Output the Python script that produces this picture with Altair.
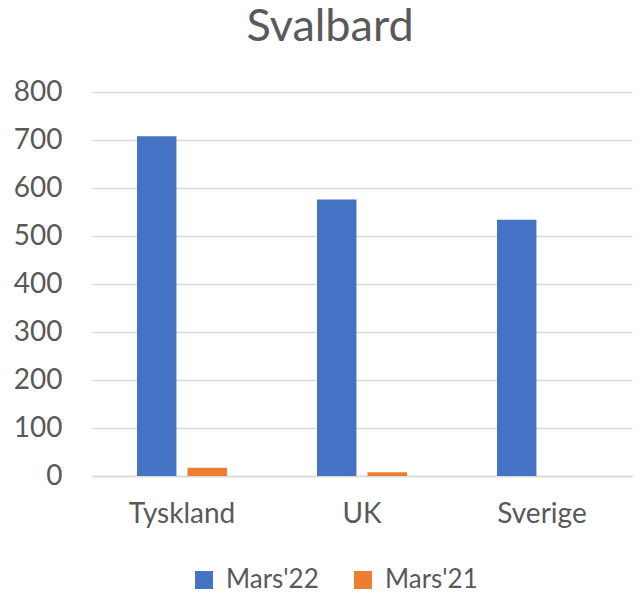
import altair as alt
import pandas as pd

categories = ["Tyskland", "UK", "Sverige"]
series = ["Mars'22", "Mars'21"]
mars22 = [708, 576, 534]
mars21 = [17, 8, 0]
colors = ["#4472C4", "#ED7D31"]

rows = []
for c, a, b in zip(categories, mars22, mars21):
    rows.append({"land": c, "serie": series[0], "verdi": a})
    rows.append({"land": c, "serie": series[1], "verdi": b})
df = pd.DataFrame(rows)

FONT = "Lato"
GREY = "#595959"

chart = alt.Chart(df).mark_bar().encode(
    x=alt.X("land:N", sort=categories, title=None,
            scale=alt.Scale(paddingInner=0.5, paddingOuter=0.25),
            axis=alt.Axis(labelAngle=0, labelFontSize=28, labelColor=GREY, labelFont=FONT,
                          ticks=False, domainColor="#D9D9D9", domainWidth=1.5, labelPadding=24)),
    xOffset=alt.XOffset("serie:N", sort=series, scale=alt.Scale(paddingInner=0.22, paddingOuter=0)),
    y=alt.Y("verdi:Q", title=None,
            scale=alt.Scale(domain=[0, 800]),
            axis=alt.Axis(values=[0, 100, 200, 300, 400, 500, 600, 700, 800], labelFontSize=28,
                          labelColor=GREY, labelFont=FONT, ticks=False, domain=False,
                          gridColor="#D9D9D9", gridWidth=1.5, labelPadding=30)),
    color=alt.Color("serie:N", sort=series, title=None,
                    scale=alt.Scale(domain=series, range=colors),
                    legend=alt.Legend(orient="none", direction="horizontal", legendX=99, legendY=475,
                                      symbolType="square", symbolSize=324, symbolStrokeWidth=0,
                                      symbolOpacity=1,
                                      labelFontSize=26, labelColor=GREY, labelFont=FONT,
                                      columnPadding=31, labelOffset=9)),
).properties(
    width=540, height=384,
    title=alt.TitleParams("Svalbard", fontSize=45, font=FONT, color=GREY, fontWeight="normal",
                          anchor="middle", offset=28, dx=-32),
    autosize=alt.AutoSizeParams(type="none"),
    padding={"left": 84, "top": 84, "right": 1, "bottom": 115},
).configure_view(stroke=None)

chart.save("out.html", embed_options={"renderer": "svg", "actions": False})
